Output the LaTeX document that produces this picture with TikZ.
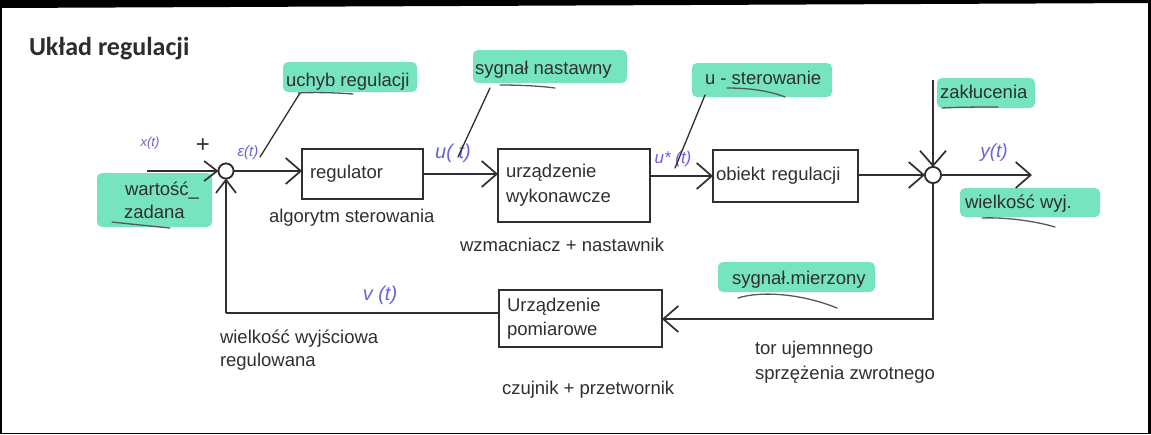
\documentclass[tikz,border=0pt]{standalone}
\usepackage{fontspec}
\setmainfont{Liberation Sans}
\newfontfamily\titlefont{Carlito}
\usetikzlibrary{arrows.meta}
\definecolor{ink}{RGB}{48,46,50}
\definecolor{hl}{RGB}{118,228,190}
\definecolor{pen}{RGB}{105,100,220}
\definecolor{uline}{RGB}{90,84,100}
\begin{document}
\begin{tikzpicture}[x=1pt,y=-1pt,
  every node/.style={inner sep=0pt, outer sep=0pt},
  lbl/.style={font=\fontsize{18.5}{24}\selectfont, text=ink, anchor=base west},
  blk/.style={draw=ink, line width=1.8pt, fill=white, font=\fontsize{18.5}{25}\selectfont, text=ink, align=left},
  sig/.style={draw=ink, line width=1.7pt, -{Straight Barb[length=15pt,width=26pt]}},
  sigs/.style={draw=ink, line width=1.7pt, -{Straight Barb[length=13pt,width=20pt]}},
  plain/.style={draw=ink, line width=1.7pt},
  sumnode/.style={circle, draw=ink, line width=1.7pt, fill=white, minimum size=15pt},
  hlbox/.style={fill=hl, rounded corners=5pt},
  lead/.style={draw=ink, line width=1.3pt, line cap=round},
  ul/.style={draw=uline, line width=1.3pt, line cap=round},
  hand/.style={text=pen, font=\itshape\fontsize{17}{18}\selectfont},
]
% canvas and frame
\fill[white] (0,0) rectangle (1151,434);
\useasboundingbox (0,0) rectangle (1151,434);
\fill[black] (0,0) -- (1151,0) -- (1151,3) -- (0,8) -- cycle;
\fill[black] (0,0) rectangle (2,434);
\fill[black] (1148,0) rectangle (1151,434);
\fill[black] (0,433) rectangle (1151,434);

% title
\node[anchor=base west, font=\titlefont\bfseries\fontsize{26}{28}\selectfont, text={rgb,255:red,45;green,45;blue,48}] (title) at (29,55) {Układ regulacji};

% highlights
\fill[hlbox] (97,173) rectangle (212,227);
\fill[hlbox] (283,62) rectangle (417,92);
\fill[hlbox] (473,50) rectangle (627,83);
\fill[hlbox] (692,63) rectangle (832,97);
\fill[hlbox] (937,78) rectangle (1035,108);
\fill[hlbox] (960,188) rectangle (1100,217);
\fill[hlbox] (718,262) rectangle (875,292);

% blocks
\node[blk, minimum width=121pt, minimum height=50pt, text width=105pt, inner xsep=8pt] (reg) at (362.5,174) {regulator};
\node[blk, minimum width=152pt, minimum height=73pt, text width=136pt, inner xsep=8pt] (urz) at (574,185.5) {urządzenie\\wykonawcze};
\node[blk, minimum width=145pt, minimum height=52pt, text width=139pt, inner xsep=3pt] (obj) at (785.5,176) {obiekt regulacji};
\node[blk, minimum width=163pt, minimum height=57pt, text width=147pt, inner xsep=8pt, font=\fontsize{18.5}{24}\selectfont] (pom) at (580.5,318.5) {Urządzenie\\pomiarowe};

% summing junctions
\node[sumnode] (sum1) at (226,171) {};
\node[sumnode, minimum size=16pt] (sum2) at (933,175) {};

% free ends
\coordinate (xin) at (147,171);
\coordinate (zak) at (933,80);
\coordinate (yout) at (1032,175);
\coordinate (fbR) at (933,319);
\coordinate (fbL) at (226,313);

% signal path
\draw[sigs] (xin) -- (sum1.west);
\draw[sig] (sum1.east) -- (sum1.east -| reg.west);
\draw[sig] (reg.east) -- (reg.east -| urz.west);
\draw[sig] (obj.west -| urz.east) -- (obj.west);
\draw[sig] (obj.east |- sum2.west) -- (sum2.west);
\draw[sig] (sum2.east) -- (yout);
\draw[sig] (zak) -- (sum2.north);
\draw[sig] (sum2.south) -- (fbR) -- (fbR -| pom.east);
\draw[plain] (pom.west |- fbL) -- (fbL);
\draw[sigs] (fbL) -- (sum1.south);
\node[sumnode] at (sum1) {};
\node[sumnode, minimum size=16pt] at (sum2) {};

% labels
\node[lbl] (wart) at (125,195) {wartość\_};
\node[lbl] (zad) at (124,218) {zadana};
\node[lbl] (uchyb) at (286,86) {uchyb regulacji};
\node[lbl] (nast) at (475,74) {sygnał nastawny};
\node[lbl] (ster) at (705,84) {u - sterowanie};
\node[lbl] (zakl) at (940,98) {zakłucenia};
\node[lbl] (wyj) at (965,208) {wielkość wyj.};
\node[lbl] (mierz) at (732,284) {sygnał.mierzony};
\node[lbl] (alg) at (269,222) {algorytm sterowania};
\node[lbl] (wzm) at (460,251) {wzmacniacz + nastawnik};
\node[lbl] (wwr) at (220,343) {wielkość wyjściowa};
\node[lbl] (regw) at (220,366) {regulowana};
\node[lbl] (czuj) at (502,394) {czujnik + przetwornik};
\node[lbl] (tor1) at (755,354) {tor ujemnnego};
\node[lbl] (tor2) at (755,379) {sprzężenia zwrotnego};

% handwritten signal names
\node[hand, font=\itshape\fontsize{13}{14}\selectfont] (xt) at (150,143) {x(t)};
\node[text=ink, font=\fontsize{24}{24}\selectfont] (plus) at (203,146) {+};
\node[hand, font=\itshape\fontsize{15}{16}\selectfont] (et) at (248,153) {ε(t)};
\node[hand, font=\itshape\fontsize{20}{20}\selectfont] (ut) at (453,153) {u( t)};
\node[hand] (ust) at (673,159) {u* (t)};
\node[hand, font=\itshape\fontsize{19}{20}\selectfont] (yt) at (994,153) {y(t)};
\node[hand, font=\itshape\fontsize{20}{20}\selectfont] (vt) at (380,295) {v (t)};

% leader lines
\coordinate (uchybL) at (300,93);
\coordinate (etT) at (260,157);
\coordinate (nastL) at (490,88);
\coordinate (utT) at (458,157);
\coordinate (sterL) at (705,95);
\coordinate (ustT) at (675,168);
\draw[lead] (uchybL) -- (etT);
\draw[lead] (nastL) -- (utT);
\draw[lead] (sterL) -- (ustT);

% hand underlines
\draw[ul] (298,93) .. controls (320,92) and (340,93) .. (353,94);
\draw[ul] (500,85) .. controls (520,85) and (540,86) .. (555,88);
\draw[ul] (727,88) .. controls (750,88) and (770,91) .. (785,97);
\draw[ul] (942,108) .. controls (960,107) and (985,107) .. (998,107);
\draw[ul] (982,218) .. controls (1005,217) and (1035,221) .. (1055,227);
\draw[ul] (112,222) .. controls (130,224) and (150,226) .. (170,228);
\draw[ul] (738,298) .. controls (760,291) and (800,293) .. (837,308);
\end{tikzpicture}
\end{document}
